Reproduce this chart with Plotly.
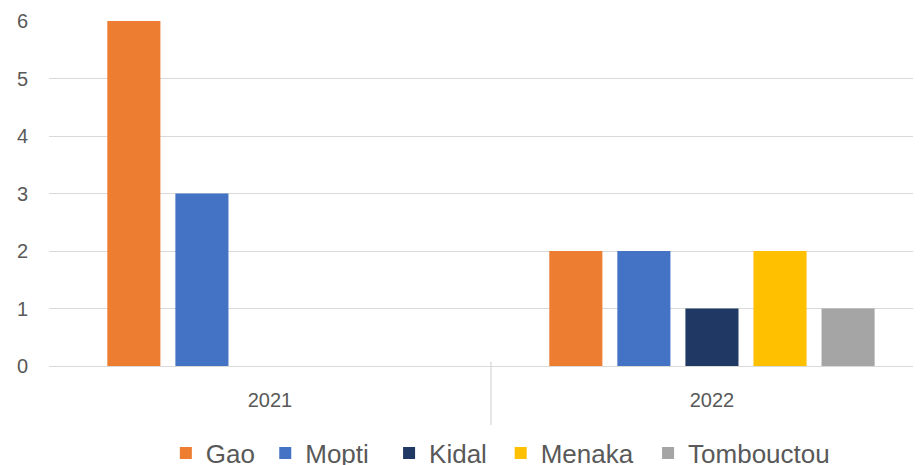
import plotly.graph_objects as go

categories = ["2021", "2022"]
series_names = ["Gao", "Mopti", "Kidal", "Menaka", "Tombouctou"]
gao = [6, 2]
mopti = [3, 2]
kidal = [0, 1]
menaka = [0, 2]
tombouctou = [0, 1]
y_ticks = [0, 1, 2, 3, 4, 5, 6]

values = [gao, mopti, kidal, menaka, tombouctou]
colors = ["#ED7D31", "#4472C4", "#203864", "#FFC000", "#A5A5A5"]
# horizontal position (paper units) of each legend entry
legend_x = [0.134, 0.248, 0.390, 0.518, 0.687]

font_family = "Liberation Sans, Arial, sans-serif"
text_color = "#595959"
grid = "#D9D9D9"

fig = go.Figure()
legend_layouts = {}
for i, (name, vals, col) in enumerate(zip(series_names, values, colors)):
    key = "legend" if i == 0 else f"legend{i + 1}"
    fig.add_trace(go.Bar(name=name, x=categories, y=vals, marker_color=col,
                         marker_line_width=0, legend=key))
    legend_layouts[key] = dict(orientation="h", x=legend_x[i], xanchor="left",
                               y=-0.184, yanchor="top", bgcolor="rgba(0,0,0,0)",
                               font=dict(size=26, color=text_color,
                                         family=font_family),
                               itemclick=False)

fig.update_layout(
    width=921, height=465,
    margin=dict(l=41, r=8, t=13, b=107, autoexpand=False),
    paper_bgcolor="white", plot_bgcolor="white",
    barmode="group", bargap=0.23, bargroupgap=0.22,
    font=dict(family=font_family, color=text_color, size=20),
    showlegend=True,
    xaxis=dict(type="category", range=[-0.5, 1.473], showgrid=False,
               showline=True, linecolor=grid, linewidth=1.4, ticks="",
               tickfont=dict(size=20, color=text_color), ticklabelstandoff=16,
               fixedrange=True, automargin=False),
    yaxis=dict(range=[0, 6], tickvals=y_ticks, showgrid=True, gridcolor=grid,
               gridwidth=1.4, zeroline=False, showline=False, ticks="",
               tickfont=dict(size=20, color=text_color), ticklabelstandoff=20,
               fixedrange=True, automargin=False),
    shapes=[dict(type="line", xref="x", yref="paper", x0=0.5, x1=0.5,
                 y0=0.012, y1=-0.171, line=dict(color=grid, width=1.3))],
    **legend_layouts,
)

fig.write_html("out.html")
